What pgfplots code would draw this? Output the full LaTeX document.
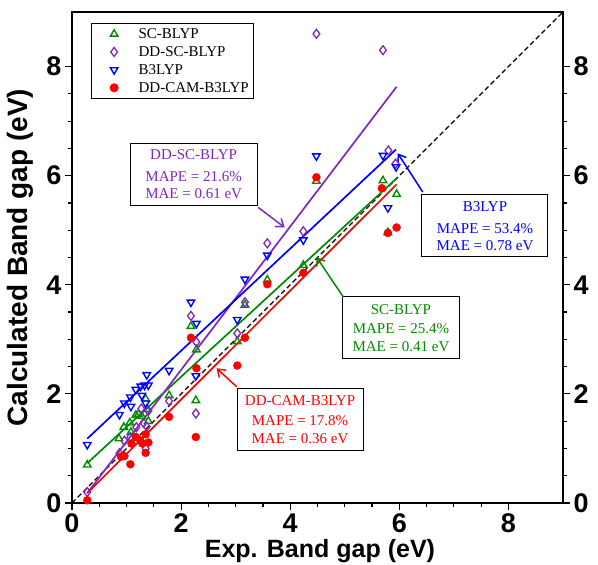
\documentclass[border=0pt]{standalone}
\usepackage{fontspec}
\setmainfont{Liberation Serif}
\setsansfont{Liberation Sans}
\usepackage{pgfplots}
\pgfplotsset{compat=1.18}
\usetikzlibrary{arrows.meta}
\definecolor{cgreen}{RGB}{0,140,0}
\definecolor{cpurple}{RGB}{128,40,190}
\definecolor{cblue}{RGB}{0,0,255}
\definecolor{cred}{RGB}{255,0,0}
\begin{document}
\begin{tikzpicture}
\pgfplotsset{
  common/.style={
    width=491pt, height=491pt, scale only axis,
    xmin=0, xmax=9, ymin=0, ymax=9,
    tick align=outside,
    major tick length=7pt, minor tick length=4pt,
    tick style={line width=1.2pt, black},
    /pgf/number format/assume math mode=true,
    tick label style={font=\fontsize{27}{29}\selectfont\bfseries\sffamily},
  }
}
\begin{axis}[common,
  axis line style={line width=1.6pt},
  xtick={0,2,4,6,8}, ytick={0,2,4,6,8},
  minor x tick num=3, minor y tick num=3,
  xtick pos=bottom, ytick pos=left,
  xlabel={Exp. Band gap (eV)},
  ylabel={Calculated Band gap (eV)},
  xlabel style={font=\fontsize{25}{27}\selectfont\bfseries\sffamily,
    at={(axis description cs:0.505,-0.098)}, anchor=center},
  ylabel style={font=\fontsize{28}{30}\selectfont\bfseries\sffamily,
    at={(axis description cs:-0.106,0.5)}, anchor=center},
  legend style={at={(0.039,0.978)}, anchor=north west, draw=black, line width=1pt,
    font=\fontsize{15}{17}\selectfont, row sep=2.5pt, inner xsep=3pt, inner ysep=3pt,
    /tikz/every odd column/.append style={column sep=3pt}},
  legend cell align=left,
  legend image code/.code={\path (0pt,0pt) (38pt,0pt); \draw plot coordinates {(19pt,0pt)};},
]
\coordinate (bl) at (rel axis cs:0,0);
\coordinate (tr) at (rel axis cs:1,1);
% identity line
\addplot[black, line width=1.2pt, dash pattern=on 5pt off 3pt, forget plot] coordinates {(0,0) (9,9)};

\addplot[only marks, mark=triangle, mark size=4.3pt, mark options={draw=cgreen, line width=1.4pt, fill=white}] coordinates {
(0.28,0.70) (0.86,1.18) (0.95,1.39) (1.06,1.47) (1.08,1.30) (1.17,1.61) (1.22,1.63)
(1.28,1.59) (1.35,1.91) (1.37,1.72) (1.40,1.50) (1.78,1.97) (2.18,3.24) (2.28,2.81)
(2.27,1.88) (3.03,2.96) (3.17,3.63) (3.58,4.09) (4.24,4.36) (4.48,5.90) (5.70,5.91)
(5.95,5.66) (5.79,4.96)};
\addlegendentry{SC-BLYP}

\addplot[only marks, mark=diamond, mark size=4.5pt, mark options={draw=cpurple, line width=1.3pt, fill=white}] coordinates {
(0.28,0.20) (0.87,0.91) (0.96,1.14) (1.07,1.21) (1.18,1.39) (1.27,1.73) (1.31,1.47)
(1.35,1.00) (1.40,1.69) (1.37,1.40) (1.78,1.87) (2.18,3.43) (2.28,2.95) (2.27,1.64)
(3.03,3.11) (3.17,3.68) (3.58,4.76) (4.24,4.98) (4.48,8.60) (5.70,8.30) (5.80,6.46)
(5.93,6.22)};
\addlegendentry{DD-SC-BLYP}

\addplot[only marks, mark=triangle, mark size=4.3pt, mark options={rotate=180, draw=cblue, line width=1.4pt, fill=white}] coordinates {
(0.28,1.07) (0.87,1.62) (0.96,1.83) (1.07,1.94) (1.08,1.77) (1.17,2.08) (1.26,2.14)
(1.28,1.97) (1.33,2.16) (1.37,2.35) (1.40,2.16) (1.35,1.83) (1.78,2.43) (2.18,3.68)
(2.28,3.29) (2.27,2.33) (3.03,3.36) (3.17,4.10) (3.58,4.54) (4.24,4.82) (4.48,6.36)
(5.70,6.37) (5.94,6.16) (5.79,5.41)};
\addlegendentry{B3LYP}

\addplot[only marks, mark=*, mark size=4pt, mark options={draw=cred, fill=cred}] coordinates {
(0.28,0.05) (0.90,0.85) (0.96,0.86) (1.07,0.71) (1.09,1.09) (1.17,1.21) (1.25,1.15)
(1.29,1.09) (1.35,1.26) (1.40,1.11) (1.35,0.92) (1.78,1.58) (2.18,3.03) (2.28,2.47)
(2.27,1.21) (3.03,2.52) (3.17,3.03) (3.58,4.01) (4.24,4.22) (4.48,5.97) (5.68,5.77)
(5.95,5.05) (5.79,4.95)};
\addlegendentry{DD-CAM-B3LYP}

% fit lines
\addplot[cgreen, line width=1.7pt, forget plot] coordinates {(0.28,0.73) (5.96,5.96)};
\addplot[cpurple, line width=1.7pt, forget plot] coordinates {(0.28,0.18) (5.95,7.63)};
\addplot[cblue, line width=1.7pt, forget plot] coordinates {(0.28,1.18) (5.94,6.48)};
\addplot[cred, line width=1.7pt, forget plot] coordinates {(0.28,0.18) (5.95,5.84)};

% annotations
\tikzset{ann/.style={draw=black, line width=1pt, fill=white, align=center,
  font=\fontsize{15}{17}\selectfont, minimum height=62pt, inner sep=2pt}}
\node[ann, text=cpurple, minimum width=127pt] at (axis cs:2.23,6.02)
  {DD-SC-BLYP\\[5pt]MAPE = 21.6\%\\MAE = 0.61 eV};
\draw[cpurple, line width=1.5pt, -{Straight Barb[length=7pt,width=10pt]}]
  (axis cs:3.41,5.42) -- (axis cs:3.90,5.05);

\node[ann, text=cblue, minimum width=126pt] at (axis cs:7.57,5.08)
  {B3LYP\\[5pt]MAPE = 53.4\%\\MAE = 0.78 eV};
\draw[cblue, line width=1.5pt, -{Straight Barb[length=7pt,width=10pt]}]
  (axis cs:6.43,5.70) -- (axis cs:5.97,6.41);

\node[ann, text=cgreen, minimum width=117pt] at (axis cs:6.03,3.21)
  {SC-BLYP\\[2pt]MAPE = 25.4\%\\[1pt]MAE = 0.41 eV};
\draw[cgreen, line width=1.5pt, -{Straight Barb[length=7pt,width=10pt]}]
  (axis cs:4.97,3.78) -- (axis cs:4.48,4.51);

\node[ann, text=cred, minimum width=126pt] at (axis cs:4.18,1.53)
  {DD-CAM-B3LYP\\[3pt]MAPE = 17.8\%\\[1pt]MAE = 0.36 eV};
\draw[cred, line width=1.5pt, -{Straight Barb[length=7pt,width=10pt]}]
  (axis cs:3.02,2.13) -- (axis cs:2.65,2.47);
\end{axis}
\begin{axis}[common,
  axis x line=none, axis y line*=right,
  axis line style={line width=1.6pt, -},
  xtick=\empty,
  ytick={0,2,4,6,8}, minor y tick num=3,
  yticklabel pos=right,
]
\end{axis}
\pgfresetboundingbox
\path[use as bounding box] ([xshift=-72pt,yshift=-61pt]bl) rectangle ([xshift=35pt,yshift=12pt]tr);
\end{tikzpicture}
\end{document}
